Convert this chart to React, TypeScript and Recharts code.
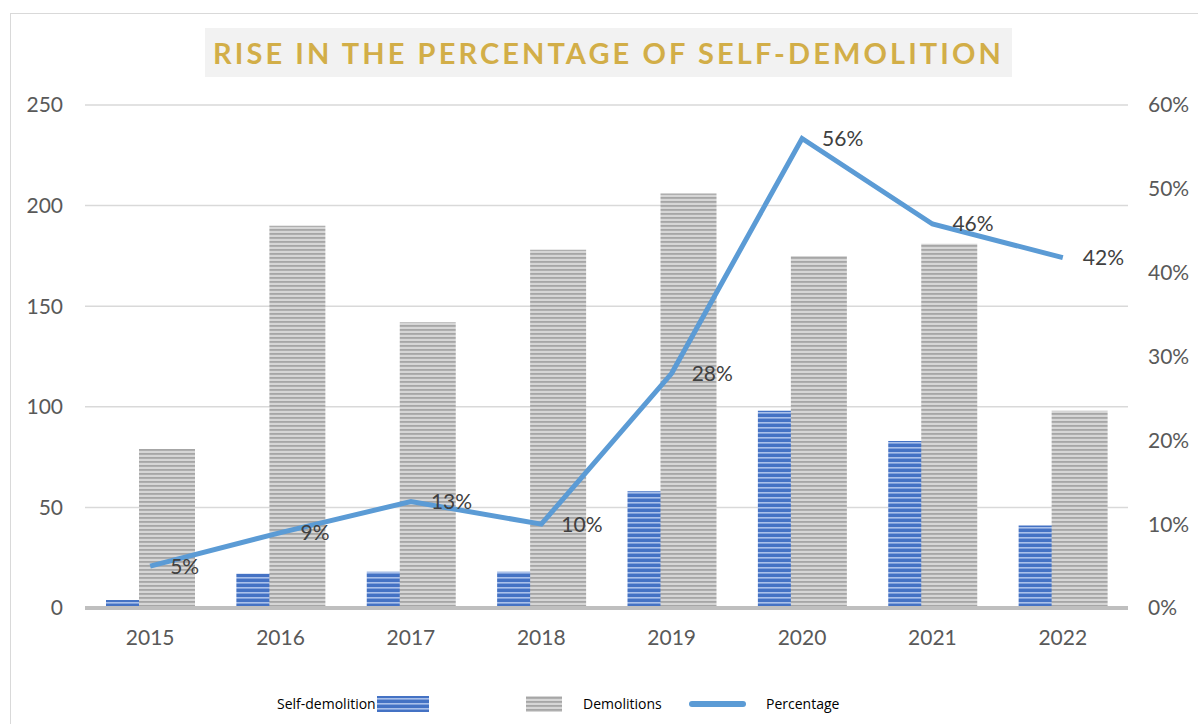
import {
  Bar,
  ComposedChart,
  LabelList,
  Line,
  XAxis,
  YAxis,
  CartesianGrid,
} from 'recharts';

// values
const years = ['2015', '2016', '2017', '2018', '2019', '2020', '2021', '2022'];
const selfDemolition = [4, 17, 18, 18, 58, 98, 83, 41];
const demolitions = [79, 190, 142, 178, 206, 175, 181, 98];
const percentage = [0.05, 0.09, 0.127, 0.1, 0.28, 0.56, 0.458, 0.418];

const leftTicks = [0, 50, 100, 150, 200, 250];
const rightTicks = [0, 0.1, 0.2, 0.3, 0.4, 0.5, 0.6];

const data = years.map((year, i) => ({
  year,
  self: selfDemolition[i],
  demo: demolitions[i],
  pct: percentage[i],
}));

const FONT = 'Lato, "Open Sans", sans-serif';
const tickStyle = { fontSize: 21, fill: '#595959', fontFamily: FONT };

export default function App() {
  return (
    <div
      style={{
        position: 'absolute',
        left: 0,
        top: 0,
        width: 1198,
        height: 724,
        background: '#fff',
        overflow: 'hidden',
        fontFamily: FONT,
      }}
    >
      {/* outer chart frame */}
      <div
        style={{
          position: 'absolute',
          left: 10,
          top: 13,
          width: 1200,
          height: 730,
          border: '1px solid #d9d9d9',
          boxSizing: 'border-box',
        }}
      />

      {/* title box */}
      <div
        style={{
          position: 'absolute',
          left: 205,
          top: 28,
          width: 807,
          height: 49,
          background: '#f2f2f2',
          color: '#d2ae48',
          fontWeight: 700,
          fontSize: 29,
          letterSpacing: 3.1,
          textAlign: 'center',
          lineHeight: '49px',
          whiteSpace: 'nowrap',
        }}
      >
        RISE IN THE PERCENTAGE OF SELF-DEMOLITION
      </div>

      <div style={{ position: 'absolute', left: 0, top: 0 }}>
        <ComposedChart
          width={1198}
          height={724}
          data={data}
          margin={{ top: 105, right: 0, bottom: 56, left: 0 }}
          barSize={56}
          barGap={-23}
        >
          <defs>
            <pattern id="bluePat" patternUnits="userSpaceOnUse" width={8} height={5}>
              <rect width={8} height={5} fill="#4472c4" />
              <rect y={2} width={8} height={1.6} fill="#a9c0ea" />
            </pattern>
            <pattern id="grayPat" patternUnits="userSpaceOnUse" width={8} height={4}>
              <rect width={8} height={4} fill="#d6d6d6" />
              <rect y={1} width={8} height={1.8} fill="#a6a6a6" />
            </pattern>
          </defs>
          <CartesianGrid
            yAxisId="left"
            vertical={false}
            stroke="#d9d9d9"
            strokeWidth={1.5}
          />
          <XAxis
            dataKey="year"
            tick={tickStyle}
            tickLine={false}
            tickSize={0}
            tickMargin={22}
            axisLine={{ stroke: '#bfbfbf', strokeWidth: 4 }}
            height={60}
          />
          <YAxis
            yAxisId="left"
            orientation="left"
            width={85}
            domain={[0, 250]}
            ticks={leftTicks}
            tick={tickStyle}
            tickLine={false}
            tickSize={0}
            tickMargin={22}
            axisLine={false}
          />
          <YAxis
            yAxisId="right"
            orientation="right"
            width={70}
            domain={[0, 0.6]}
            ticks={rightTicks}
            tick={tickStyle}
            tickLine={false}
            tickSize={0}
            tickMargin={20}
            axisLine={false}
            tickFormatter={(v: number) => `${Math.round(v * 100)}%`}
          />
          <Bar
            yAxisId="left"
            dataKey="self"
            fill="url(#bluePat)"
            isAnimationActive={false}
          />
          <Bar
            yAxisId="left"
            dataKey="demo"
            fill="url(#grayPat)"
            isAnimationActive={false}
          />
          <Line
            yAxisId="right"
            dataKey="pct"
            stroke="#5b9bd5"
            strokeWidth={5}
            dot={false}
            activeDot={false}
            strokeLinejoin="miter"
            isAnimationActive={false}
          >
            <LabelList
              dataKey="pct"
              position="right"
              offset={20}
              fill="#404040"
              fontSize={21}
              fontFamily={FONT}
              formatter={(v: number) => `${Math.round(v * 100)}%`}
            />
          </Line>
        </ComposedChart>
      </div>

      {/* legend */}
      <div
        style={{
          position: 'absolute',
          top: 695,
          left: 0,
          width: 1198,
          height: 20,
          fontSize: 14,
          color: '#000',
          fontFamily: '"Open Sans", sans-serif',
        }}
      >
        <span style={{ position: 'absolute', left: 277, top: 0, lineHeight: '18px' }}>
          Self-demolition
        </span>
        <svg style={{ position: 'absolute', left: 377, top: 1 }} width={52} height={16}>
          <defs>
            <pattern id="legendBlue" patternUnits="userSpaceOnUse" width={8} height={5}>
              <rect width={8} height={5} fill="#4472c4" />
              <rect y={2} width={8} height={1.6} fill="#a9c0ea" />
            </pattern>
          </defs>
          <rect width={52} height={16} fill="url(#legendBlue)" />
        </svg>
        <svg style={{ position: 'absolute', left: 526, top: 1 }} width={36} height={16}>
          <defs>
            <pattern id="legendGray" patternUnits="userSpaceOnUse" width={8} height={4}>
              <rect width={8} height={4} fill="#d6d6d6" />
              <rect y={1} width={8} height={1.8} fill="#a6a6a6" />
            </pattern>
          </defs>
          <rect width={36} height={16} fill="url(#legendGray)" />
        </svg>
        <span style={{ position: 'absolute', left: 583, top: 0, lineHeight: '18px' }}>
          Demolitions
        </span>
        <svg style={{ position: 'absolute', left: 689, top: 5 }} width={57} height={8}>
          <line x1={3} y1={4} x2={54} y2={4} stroke="#5b9bd5" strokeWidth={6} strokeLinecap="round" />
        </svg>
        <span style={{ position: 'absolute', left: 766, top: 0, lineHeight: '18px' }}>
          Percentage
        </span>
      </div>
    </div>
  );
}
